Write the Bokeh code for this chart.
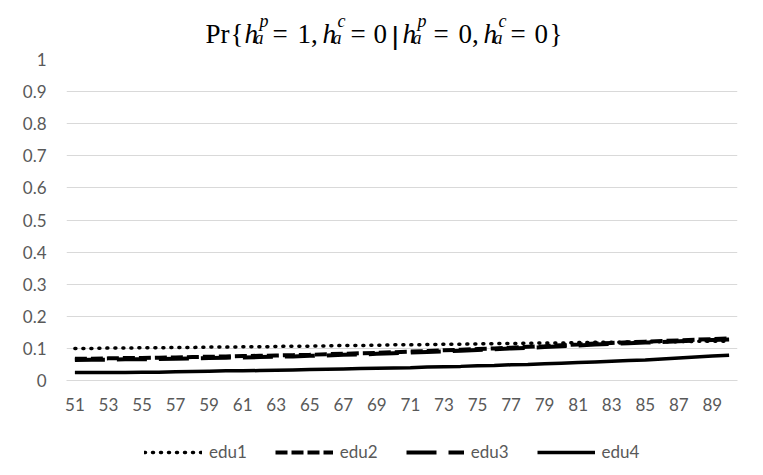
from bokeh.plotting import figure
from bokeh.layouts import column
from bokeh.models import (Legend, LegendItem, FixedTicker, CustomJSTickFormatter, Range1d)
from bokeh.core.properties import value
from bokeh.embed import file_html
from bokeh.resources import INLINE

ages = list(range(51, 91))
x_ticks = list(range(51, 90, 2))
y_ticks = [0, 0.1, 0.2, 0.3, 0.4, 0.5, 0.6, 0.7, 0.8, 0.9, 1.0]

edu1 = [0.100, 0.100, 0.101, 0.101, 0.102, 0.102, 0.103, 0.103, 0.104, 0.104,
        0.105, 0.105, 0.106, 0.107, 0.107, 0.108, 0.109, 0.109, 0.110, 0.111,
        0.111, 0.112, 0.113, 0.113, 0.114, 0.115, 0.115, 0.116, 0.117, 0.117,
        0.118, 0.119, 0.119, 0.120, 0.120, 0.121, 0.121, 0.122, 0.122, 0.122]
edu2 = [0.068, 0.068, 0.069, 0.070, 0.070, 0.071, 0.072, 0.073, 0.074, 0.075,
        0.076, 0.077, 0.078, 0.079, 0.080, 0.082, 0.083, 0.085, 0.086, 0.088,
        0.090, 0.092, 0.094, 0.096, 0.098, 0.100, 0.102, 0.105, 0.107, 0.110,
        0.112, 0.115, 0.117, 0.119, 0.121, 0.123, 0.125, 0.127, 0.129, 0.131]
edu3 = [0.064, 0.065, 0.065, 0.066, 0.066, 0.067, 0.068, 0.069, 0.070, 0.071,
        0.072, 0.073, 0.074, 0.075, 0.077, 0.078, 0.080, 0.081, 0.083, 0.085,
        0.087, 0.089, 0.091, 0.093, 0.095, 0.097, 0.100, 0.102, 0.104, 0.107,
        0.109, 0.112, 0.114, 0.116, 0.118, 0.120, 0.122, 0.124, 0.126, 0.128]
edu4 = [0.025, 0.025, 0.025, 0.025, 0.026, 0.026, 0.027, 0.028, 0.029, 0.030,
        0.030, 0.031, 0.032, 0.033, 0.034, 0.035, 0.036, 0.037, 0.038, 0.039,
        0.040, 0.042, 0.043, 0.044, 0.046, 0.047, 0.049, 0.050, 0.052, 0.054,
        0.056, 0.058, 0.060, 0.062, 0.064, 0.067, 0.070, 0.073, 0.076, 0.079]

series_names = ["edu1", "edu2", "edu3", "edu4"]
series = [edu1, edu2, edu3, edu4]
styles = [dict(line_width=3.5, line_dash="1 7", line_cap="round"),
          dict(line_width=4, line_dash="12 4"),
          dict(line_width=4, line_dash="30 12"),
          dict(line_width=3.5)]

W = 763
TH = 50          # title strip height
H = 385          # main figure height
LH = 40          # legend strip height
FL, FW, FH = 66, 671, 321
FT = 59 - TH
FB = H - FT - FH


def strip(height, xr, yr):
    f = figure(width=W, height=height, output_backend="svg", toolbar_location=None,
               x_range=xr, y_range=yr, min_border=0, min_border_left=FL,
               min_border_right=W - FL - FW, min_border_top=0, min_border_bottom=0)
    f.axis.visible = False
    f.grid.visible = False
    f.outline_line_color = None
    f.border_fill_color = "white"
    f.background_fill_color = "white"
    return f


# ---- title strip (composed math title); x in page pixels ----
t = strip(TH, Range1d(FL, FL + FW), Range1d(TH, 0))
BASE, SUB, SUP = 33, 37, 20
up_x = [205, 230, 272, 297, 350, 373, 433, 458, 510, 534, 549]
up_t = ["Pr", "{", "=", "1,", "=", "0", "=", "0,", "=", "0", "}"]
it_x = [244, 322, 402, 483]
it_t = ["h", "h", "h", "h"]
sm_x = [254, 259, 332, 337, 412, 417, 493, 498]
sm_y = [SUB, SUP, SUB, SUP, SUB, SUP, SUB, SUP]
sm_t = ["a", "p", "a", "c", "a", "p", "a", "c"]
common = dict(text_color="black", text_baseline="alphabetic", text_align="left")
serif = value("Liberation Serif")
t.text(x=up_x, y=[BASE] * len(up_x), text=up_t, text_font=serif, text_font_size="27px",
       text_font_style="normal", **common)
t.text(x=it_x, y=[BASE] * len(it_x), text=it_t, text_font=serif, text_font_size="27px",
       text_font_style="italic", **common)
t.text(x=sm_x, y=sm_y, text=sm_t, text_font=serif, text_font_size="18px",
       text_font_style="italic", **common)
t.text(x=[390], y=[38], text=["|"], text_font=value("DejaVu Sans"),
       text_font_size="28px", **common)

# ---- main chart ----
p = figure(width=W, height=H, output_backend="svg", toolbar_location=None,
           x_range=Range1d(50.5, 90.5), y_range=Range1d(0, 1),
           min_border_left=FL, min_border_top=FT,
           min_border_right=W - FL - FW, min_border_bottom=FB)
p.outline_line_color = None
p.background_fill_color = "white"
p.border_fill_color = "white"

p.xgrid.grid_line_color = None
p.ygrid.grid_line_color = "#d9d9d9"
p.ygrid.grid_line_width = 1
p.ygrid.ticker = FixedTicker(ticks=y_ticks)

p.xaxis.ticker = FixedTicker(ticks=x_ticks)
p.xaxis.axis_line_color = "#d9d9d9"
p.xaxis.major_tick_line_color = None
p.xaxis.minor_tick_line_color = None
p.xaxis.major_label_text_font = "Lato"
p.xaxis.major_label_text_font_size = "17px"
p.xaxis.major_label_text_color = "#595959"
p.xaxis.major_label_standoff = 11

p.yaxis.ticker = FixedTicker(ticks=y_ticks)
p.yaxis.formatter = CustomJSTickFormatter(code="return String(Number(tick.toFixed(1)));")
p.yaxis.axis_line_color = None
p.yaxis.major_tick_line_color = None
p.yaxis.minor_tick_line_color = None
p.yaxis.major_label_text_font = "Lato"
p.yaxis.major_label_text_font_size = "17px"
p.yaxis.major_label_text_color = "#595959"
p.yaxis.major_label_standoff = 14

for ys, st in zip(series, styles):
    p.line(ages, ys, line_color="black", **st)

# ---- legend strip (key renderers use the same data; it lies outside this strip's range) ----
lg = strip(LH, Range1d(0, 1), Range1d(0, 1))
keys = [lg.line(ages, ys, line_color="black", **st) for ys, st in zip(series, styles)]
legend = Legend(items=[LegendItem(label=n, renderers=[r]) for n, r in zip(series_names, keys)],
                orientation="horizontal", location=(78, 13),
                glyph_width=58, glyph_height=20, label_standoff=7, spacing=28,
                padding=0, margin=0, border_line_color=None, background_fill_alpha=0,
                label_text_font="Lato", label_text_font_size="17px", label_text_color="#595959")
lg.add_layout(legend, "center")

layout = column(t, p, lg, spacing=0)
open("out.html", "w").write(file_html(layout, INLINE))
